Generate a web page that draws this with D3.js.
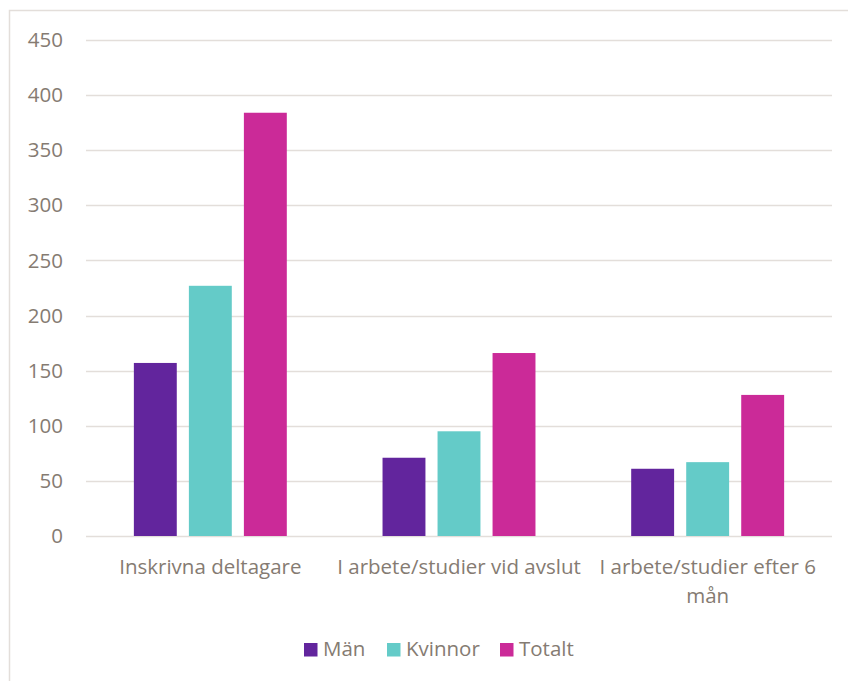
<!DOCTYPE html>
<html>
<head>
<meta charset="utf-8">
<script src="https://cdn.jsdelivr.net/npm/d3@7"></script>
<style>
  html, body { margin: 0; padding: 0; background: #fff; }
  svg text { font-family: "Open Sans", "Noto Sans", sans-serif; fill: #857b72; }
</style>
</head>
<body>
<svg id="chart" width="848" height="681"></svg>
<script>
const categories = ["Inskrivna deltagare", "I arbete/studier vid avslut", "I arbete/studier efter 6 mån"];
const seriesNames = ["Män", "Kvinnor", "Totalt"];
const man = [157, 71, 61];
const kvinnor = [227, 95, 67];
const totalt = [384, 166, 128];
const yTicks = [0, 50, 100, 150, 200, 250, 300, 350, 400, 450];
const colors = ["#62259d", "#64cbc8", "#cb2a98"];

const seriesValues = [man, kvinnor, totalt];
const FONT_SIZE = 20.5;

const svg = d3.select("#chart");

// outer chart frame
svg.append("rect")
  .attr("x", 9.5).attr("y", 10.5)
  .attr("width", 848).attr("height", 690)
  .attr("fill", "none").attr("stroke", "#e3deda").attr("stroke-width", 1.5);

const plot = { left: 86, right: 832, top: 40, bottom: 536 };

const y = d3.scaleLinear().domain([0, 450]).range([plot.bottom, plot.top]);
const x0 = d3.scaleBand().domain(categories).range([plot.left, plot.right]);
const x1 = d3.scaleBand().domain(seriesNames)
  .range([0, x0.bandwidth()]).paddingInner(0.22).paddingOuter(0.87);

// gridlines
svg.append("g").selectAll("line").data(yTicks).join("line")
  .attr("x1", plot.left).attr("x2", plot.right)
  .attr("y1", d => Math.round(y(d)) + 0.5).attr("y2", d => Math.round(y(d)) + 0.5)
  .attr("stroke", "#e3deda").attr("stroke-width", 1.5);

// y axis labels
const yAxis = d3.axisLeft(y).tickValues(yTicks).tickSize(0).tickPadding(0);
const yg = svg.append("g").attr("transform", `translate(${plot.left - 23},0)`).call(yAxis);
yg.select(".domain").remove();
yg.selectAll("text").attr("font-size", FONT_SIZE).attr("fill", "#857b72")
  .attr("font-family", "'Open Sans', sans-serif");

// bars
const groups = svg.append("g").selectAll("g").data(categories).join("g")
  .attr("transform", d => `translate(${x0(d)},0)`);
groups.selectAll("rect")
  .data((c, ci) => seriesNames.map((s, si) => ({ s, si, v: seriesValues[si][ci] })))
  .join("rect")
  .attr("x", d => x1(d.s))
  .attr("width", x1.bandwidth())
  .attr("y", d => y(d.v))
  .attr("height", d => y(0) - y(d.v))
  .attr("fill", d => colors[d.si]);

// category labels, wrapped to the band width
const labelY = 38;
const lineGap = 29;
const xAxis = d3.axisBottom(x0).tickSize(0).tickPadding(0);
const xg = svg.append("g").attr("transform", `translate(0,${plot.bottom})`).call(xAxis);
xg.select(".domain").remove();
xg.selectAll("text").attr("font-size", FONT_SIZE).attr("fill", "#857b72")
  .attr("font-family", "'Open Sans', sans-serif")
  .attr("dy", null).attr("y", labelY)
  .each(function(d) {
    const t = d3.select(this);
    const words = d.split(" ");
    t.text(null);
    let line = [];
    let tspan = t.append("tspan").attr("x", 0).attr("y", labelY);
    let lineNo = 0;
    for (const w of words) {
      line.push(w);
      tspan.text(line.join(" "));
      if (tspan.node().getComputedTextLength() > x0.bandwidth() + 2 && line.length > 1) {
        line.pop();
        tspan.text(line.join(" "));
        line = [w];
        lineNo++;
        tspan = t.append("tspan").attr("x", 0).attr("y", labelY + lineNo * lineGap).text(w);
      }
    }
  });

// legend
const legendItems = [
  { name: "Män", sx: 304, tx: 323 },
  { name: "Kvinnor", sx: 387, tx: 406 },
  { name: "Totalt", sx: 500, tx: 519 }
];
const lg = svg.append("g").selectAll("g").data(legendItems).join("g");
lg.append("rect")
  .attr("x", d => d.sx).attr("y", 643).attr("width", 13.5).attr("height", 13.5)
  .attr("fill", (d, i) => colors[i]);
lg.append("text")
  .attr("x", d => d.tx).attr("y", 656)
  .attr("font-size", FONT_SIZE)
  .text(d => d.name);
</script>
</body>
</html>
